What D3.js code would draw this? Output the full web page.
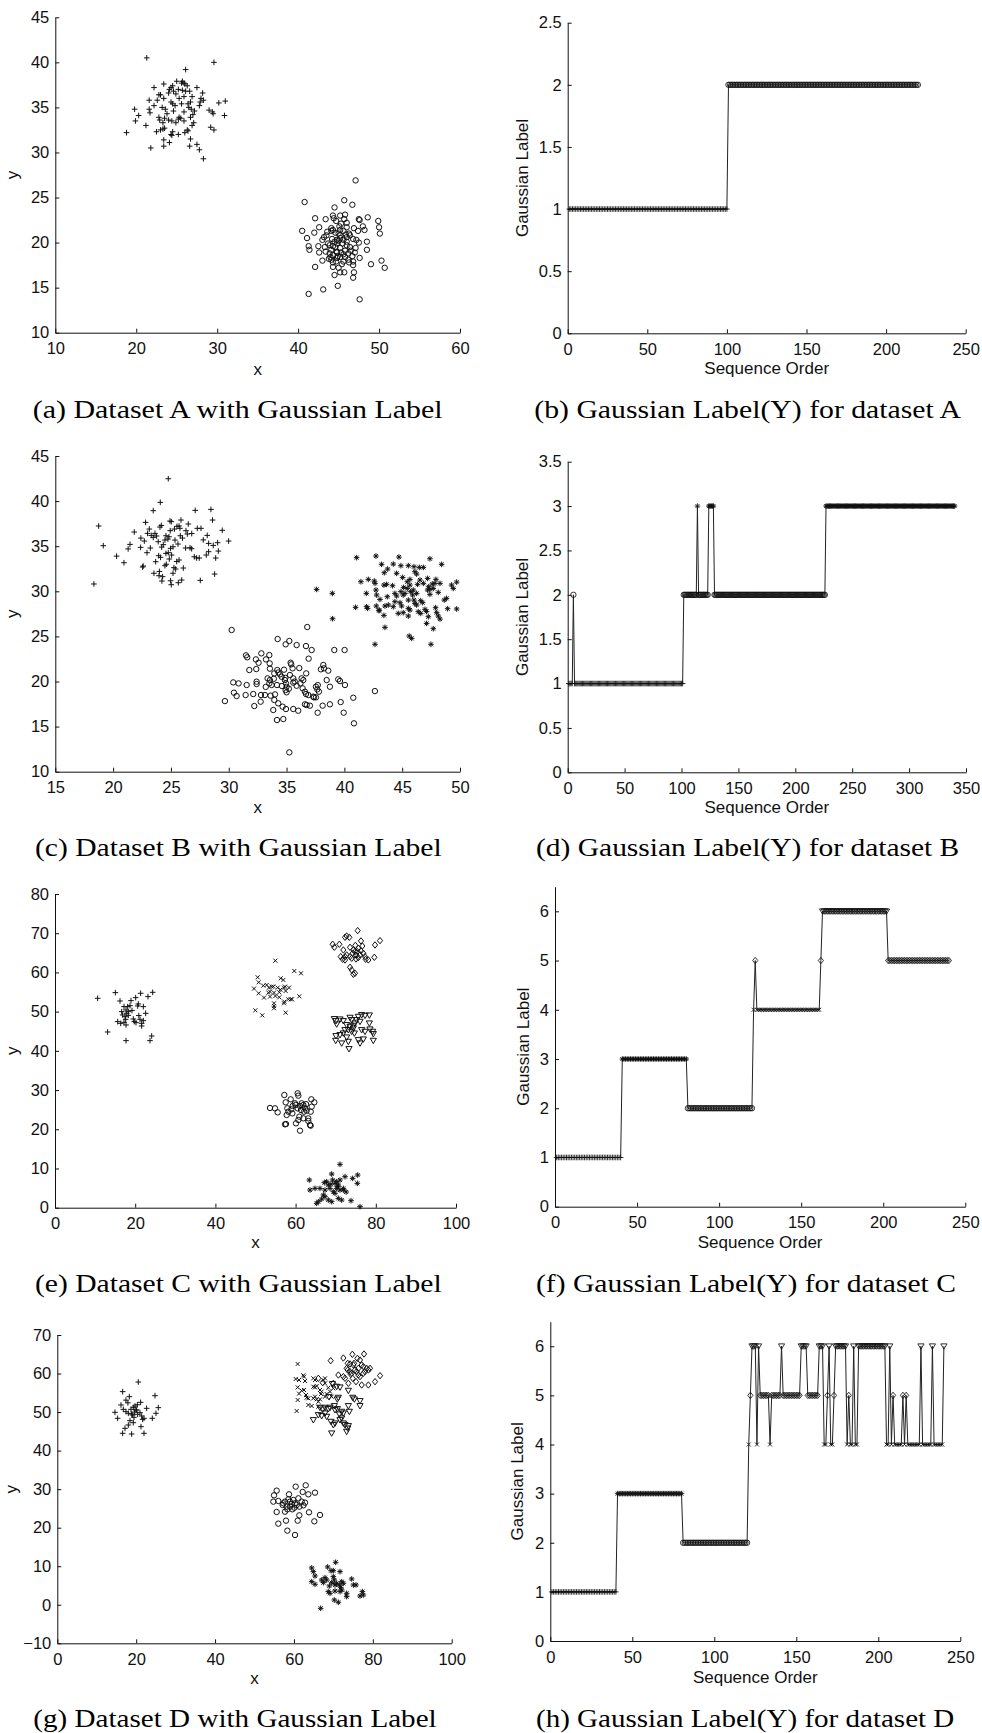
<!DOCTYPE html>
<html><head><meta charset="utf-8">
<script src="https://cdn.jsdelivr.net/npm/d3@7"></script>
<style>body{margin:0;background:#fff}</style>
</head><body><svg id="c" width="982" height="1733"></svg>
<script>
// ---------------- DATA ----------------
// Dataset A (scatter)
const aPlus=[[21.3,40.5],[29.6,40.0],[26.1,39.2],[25.0,37.9],[25.7,37.9],[25.9,37.7],[26.0,37.6],[25.6,37.7],[23.4,37.6],[24.5,37.4],[26.3,37.4],[22.2,37.2],[24.3,37.2],[27.5,37.2],[25.2,37.0],[24.1,37.0],[24.6,36.8],[26.1,36.8],[26.6,36.8],[24.0,36.6],[28.2,36.6],[22.8,36.4],[23.0,36.4],[26.9,36.2],[25.9,36.2],[23.4,36.0],[25.3,36.0],[28.0,36.0],[21.6,35.8],[22.6,35.8],[28.3,35.8],[24.3,35.6],[26.7,35.6],[27.9,35.6],[30.2,35.5],[31.0,35.7],[24.5,35.4],[25.6,35.4],[26.4,35.4],[22.2,35.2],[24.8,35.2],[27.8,35.2],[23.2,35.0],[26.5,35.0],[19.8,34.8],[21.6,34.8],[23.6,34.8],[26.8,34.8],[29.0,34.7],[24.6,34.6],[27.2,34.6],[25.9,34.5],[29.4,34.5],[21.7,34.4],[29.5,34.3],[20.3,34.1],[30.9,34.1],[22.8,33.9],[25.3,33.9],[26.7,33.9],[23.5,33.8],[25.5,33.8],[25.2,33.7],[22.9,33.6],[24.0,33.6],[19.9,33.5],[24.4,33.5],[25.9,33.5],[23.3,33.3],[24.9,33.3],[27.1,33.3],[21.2,33.0],[26.9,33.0],[29.2,32.8],[23.5,32.7],[23.3,32.6],[23.0,32.5],[26.3,32.5],[29.6,32.5],[26.4,32.4],[22.5,32.3],[24.5,32.3],[18.8,32.2],[26.0,32.2],[25.2,32.0],[24.3,32.0],[24.4,31.9],[26.7,31.5],[23.4,31.4],[24.1,31.1],[27.5,30.9],[23.4,30.7],[26.6,30.7],[21.8,30.5],[27.8,30.3],[28.3,29.3],[24.9,36.5],[27.0,34.2],[23.8,34.3],[25.7,36.9]];
const aCircle=[[47.1,26.9],[40.8,24.5],[45.7,24.7],[46.7,24.2],[44.5,23.9],[48.6,22.8],[49.9,22.4],[42.1,22.7],[43.4,22.6],[44.3,23.0],[45.2,23.0],[45.8,23.1],[47.5,22.6],[47.6,22.5],[44.7,22.4],[45.3,22.1],[50.0,21.7],[50.1,21.0],[40.5,21.3],[42.6,21.7],[42.0,21.1],[44.1,21.6],[44.3,21.4],[46.0,21.7],[46.9,21.6],[48.0,21.8],[48.2,21.4],[47.4,21.3],[45.2,21.4],[45.0,21.0],[41.1,20.5],[43.2,20.6],[43.0,20.3],[43.5,20.8],[44.8,20.3],[45.2,20.5],[45.6,20.3],[46.0,20.6],[46.4,20.8],[47.2,20.3],[48.5,20.1],[41.3,19.6],[41.4,19.2],[42.5,19.6],[43.3,19.5],[43.9,19.7],[44.1,19.2],[44.6,19.5],[44.8,19.9],[45.2,19.4],[46.0,19.7],[46.4,19.5],[48.5,19.2],[42.6,18.9],[43.9,18.8],[44.3,18.6],[44.8,18.9],[45.2,18.4],[45.6,18.7],[46.2,18.8],[46.7,18.5],[47.6,18.3],[43.0,18.0],[44.1,18.1],[44.3,17.8],[44.8,18.3],[45.6,17.9],[46.2,18.1],[46.8,17.5],[46.8,17.9],[50.3,18.0],[50.7,17.2],[49.0,17.6],[42.1,17.3],[44.3,17.3],[44.5,16.4],[45.2,16.7],[45.7,16.7],[46.9,16.7],[46.8,16.1],[44.9,15.2],[43.1,14.8],[41.3,14.3],[47.6,13.7],[44.5,20.1],[45.0,20.2],[45.5,19.9],[46.0,20.1],[44.8,19.0],[45.3,18.9],[45.8,19.1],[44.2,20.4],[45.1,21.8],[44.6,21.1],[45.9,20.9],[46.5,19.1],[44.0,18.4],[45.4,17.6],[44.7,17.9],[46.3,17.8],[43.7,19.9],[46.8,20.4],[45.7,22.6],[44.4,22.7],[47.1,19.4],[43.6,21.2],[45.2,20.8],[44.9,18.5],[45.6,21.3],[46.3,21.0],[44.3,19.6],[47.0,18.9],[43.8,18.2],[46.0,22.2],[45.0,17.2],[43.4,19.0],[47.5,20.0],[44.1,21.3],[45.8,18.4]];
// Dataset B (scatter)
const bPlus=[[24.77,42.48],[24.08,39.86],[23.47,38.94],[27.1,38.97],[28.46,39.08],[28.6,37.9],[29.44,36.76],[18.75,37.24],[19.15,35.06],[29.99,35.57],[18.34,30.81],[20.3,33.9],[20.94,33.17],[21.83,36.57],[22.81,37.64],[21.3,34.7],[21.46,35.2],[22.38,34.87],[22.55,32.69],[22.6,32.8],[22.98,36.42],[23.13,36.9],[22.93,34.28],[23.22,34.8],[23.47,35.98],[23.62,36.42],[23.76,36.13],[23.68,33.28],[23.97,31.73],[24.28,31.62],[24.22,31.14],[23.94,33.95],[24.1,33.76],[24.34,35.17],[24.48,32.84],[24.57,34.2],[24.77,34.28],[24.05,37.12],[24.17,37.3],[24.92,37.79],[25.03,37.72],[24.94,36.72],[24.83,36.05],[24.74,35.79],[24.97,34.76],[25.06,34.02],[24.86,33.58],[24.97,31.17],[25.03,30.73],[25.18,32.0],[25.26,32.62],[25.41,32.47],[25.18,34.94],[25.35,35.68],[25.61,35.24],[25.52,37.2],[25.7,37.24],[25.78,36.98],[25.87,37.9],[25.64,30.95],[25.93,31.25],[25.7,33.47],[26.07,32.58],[25.81,36.16],[26.3,36.72],[26.42,36.35],[26.27,34.8],[26.5,37.46],[26.65,34.83],[26.79,34.72],[27.02,33.83],[27.22,33.69],[27.45,33.69],[27.28,36.98],[27.6,36.98],[27.54,31.21],[28.06,34.02],[28.26,34.39],[28.14,36.2],[28.26,35.31],[28.66,35.09],[28.87,33.69],[28.78,31.91],[29.04,35.39],[29.1,34.46],[22.7,35.57],[23.53,32.0],[24.57,36.16],[24.48,35.68],[24.2,34.9],[25.5,33.3],[23.9,35.5],[26.0,35.9],[22.4,35.9],[25.3,36.9],[24.6,33.0],[26.8,36.4],[23.3,36.2],[27.8,35.7],[24.0,32.2]];
const bCircle=[[30.25,25.71],[36.79,26.04],[34.23,24.71],[34.92,24.12],[35.24,24.49],[35.87,24.04],[36.68,23.93],[37.17,23.49],[39.13,23.49],[40.02,23.49],[36.91,22.53],[32.82,23.12],[33.51,22.93],[31.49,22.9],[31.6,22.68],[32.35,22.45],[32.58,22.08],[33.22,22.45],[33.54,22.01],[35.35,22.08],[35.52,21.46],[36.1,21.49],[38.18,21.83],[38.24,21.46],[37.97,21.35],[38.61,21.2],[31.78,21.27],[32.38,21.38],[33.56,21.42],[34.2,21.27],[34.78,21.31],[33.94,20.9],[34.43,20.79],[34.57,20.53],[35.29,20.72],[35.58,20.35],[30.39,19.9],[30.85,19.79],[31.55,19.61],[32.41,19.98],[32.41,19.72],[33.36,20.35],[33.56,20.16],[33.51,19.79],[33.71,19.61],[34.17,19.61],[34.86,20.16],[34.95,19.79],[35.0,19.42],[34.92,19.05],[35.58,19.87],[35.87,19.53],[36.45,20.16],[36.3,20.35],[36.39,19.24],[36.59,18.87],[36.68,18.61],[36.88,18.5],[37.54,19.42],[37.66,19.13],[37.8,18.87],[38.47,20.16],[38.75,19.42],[39.47,20.24],[39.62,20.05],[40.05,19.61],[42.64,18.94],[40.77,18.2],[30.45,18.76],[30.68,18.39],[31.46,18.5],[32.12,18.61],[32.79,18.5],[33.13,18.5],[33.62,18.43],[34.0,18.57],[33.94,17.95],[34.28,17.58],[34.66,17.21],[34.95,16.95],[37.31,18.32],[37.54,18.24],[37.37,18.24],[36.59,17.47],[36.74,17.39],[37.02,17.32],[38.12,17.32],[38.75,17.47],[39.68,17.72],[29.67,17.83],[32.21,17.28],[32.76,17.76],[33.85,16.84],[35.58,16.95],[36.01,16.76],[37.69,16.54],[39.94,16.54],[34.17,15.73],[34.72,15.84],[40.83,15.36],[35.24,12.14],[34.9,20.4],[35.2,19.2],[34.6,19.5],[35.7,20.0],[36.2,19.8],[33.9,20.3],[34.3,21.0],[35.4,21.9],[36.7,20.9],[37.7,19.6],[35.0,18.8],[33.2,19.4]];
const bStar=[[37.6,30.21],[38.96,29.77],[38.98,26.96],[41.06,33.73],[42.73,33.91],[44.72,33.8],[47.4,33.61],[48.41,32.99],[43.22,32.99],[44.23,33.02],[44.89,32.84],[45.53,32.84],[46.02,32.73],[46.48,32.65],[46.83,32.65],[43.74,32.47],[43.45,32.06],[44.52,31.99],[45.04,31.54],[46.1,32.17],[46.25,31.91],[47.2,31.43],[47.92,31.32],[47.83,30.88],[41.43,31.06],[42.07,31.32],[42.59,31.14],[42.65,30.88],[43.42,30.69],[43.65,30.77],[44.17,30.62],[45.44,31.06],[45.67,31.32],[46.54,31.25],[46.33,30.77],[46.83,30.88],[47.29,30.51],[47.4,30.21],[47.6,30.81],[47.69,30.32],[48.27,30.88],[49.27,30.69],[49.42,30.32],[49.71,31.02],[41.9,29.77],[42.73,30.14],[42.79,29.59],[43.08,29.1],[43.71,29.4],[44.37,29.77],[44.52,29.48],[44.89,29.96],[45.09,29.59],[45.24,29.77],[45.73,29.96],[45.9,29.59],[46.02,29.03],[46.6,28.96],[46.77,28.74],[47.2,30.14],[47.4,29.66],[48.12,29.88],[48.64,29.03],[48.84,29.22],[40.97,28.22],[41.92,28.29],[42.01,28.11],[42.76,28.37],[43.02,27.92],[43.51,28.37],[43.8,28.48],[44.81,28.74],[44.95,28.37],[44.66,27.55],[45.09,27.63],[45.53,28.11],[45.67,27.92],[46.1,28.66],[46.25,28.48],[46.39,27.74],[46.6,27.55],[46.97,28.0],[47.11,27.77],[47.26,27.18],[47.89,28.18],[47.98,27.63],[48.12,27.26],[48.93,28.07],[49.71,28.04],[43.42,27.33],[42.99,27.85],[45.53,27.26],[47.11,26.44],[48.27,26.92],[43.51,26.0],[47.69,25.85],[45.61,25.04],[45.82,24.78],[42.65,24.12],[47.49,24.12],[44.23,28.29],[44.37,28.85],[45.44,30.32],[45.67,30.69],[45.12,30.43],[45.96,30.14],[46.25,29.77],[45.53,29.03]];
// Dataset C (scatter)
const cPlus=[[10.64,53.4],[15.05,54.85],[13.13,44.81],[16.21,52.72],[17.71,42.6],[18.95,52.81],[20.12,53.57],[21.36,54.68],[23.19,53.83],[24.36,54.93],[24.11,43.79],[23.69,42.6],[17.21,51.28],[17.71,50.43],[18.12,51.28],[16.63,50.0],[16.87,49.15],[17.46,48.72],[18.29,50.0],[18.7,51.53],[20.62,51.45],[20.78,51.96],[22.03,51.28],[22.61,49.57],[15.63,47.45],[16.38,47.02],[17.21,47.28],[17.71,46.6],[17.62,48.04],[19.53,48.13],[19.78,47.45],[20.2,47.19],[21.2,48.04],[21.61,47.02],[22.03,47.7],[21.61,46.34],[17.87,49.57],[18.29,49.06],[19.2,50.3],[20.9,49.0]];
const cCross=[[54.95,63.0],[59.68,60.37],[61.35,59.78],[50.54,58.76],[50.79,57.48],[49.63,55.87],[49.96,50.34],[51.7,49.06],[57.52,49.74],[60.93,53.91],[51.95,56.63],[50.79,54.68],[52.12,53.57],[52.79,56.8],[53.37,56.12],[53.2,54.85],[53.62,53.83],[54.03,56.38],[54.45,56.38],[54.61,54.85],[54.95,53.99],[54.61,52.13],[54.61,51.45],[54.61,50.85],[55.53,56.12],[55.94,54.93],[56.28,58.5],[56.94,58.08],[57.11,56.12],[57.52,55.27],[57.36,56.38],[57.19,52.55],[57.11,52.13],[58.35,56.12],[58.19,53.15],[58.77,53.15],[59.1,53.15],[55.94,53.66],[53.62,55.1],[56.2,55.6]];
const cDiamond=[[75.48,70.66],[69.24,67.18],[69.66,66.41],[70.91,67.18],[72.32,68.96],[72.73,69.3],[73.4,68.96],[76.31,68.03],[76.64,66.75],[79.8,67.01],[81.05,68.11],[71.9,65.73],[72.73,64.46],[72.32,64.03],[71.24,64.03],[71.74,63.35],[73.57,66.41],[74.4,65.73],[74.81,65.31],[73.57,64.03],[73.98,63.61],[74.23,64.88],[75.06,64.46],[75.39,65.31],[76.06,64.46],[75.64,66.16],[76.89,64.88],[77.31,64.03],[75.64,63.78],[75.06,63.44],[77.47,63.35],[78.14,63.18],[79.63,63.86],[73.57,61.31],[73.98,60.63],[74.81,59.78],[74.4,59.52],[72.32,63.18],[74.9,66.9],[76.3,65.5]];
const cTri=[[69.66,48.13],[70.07,47.62],[71.07,48.04],[70.24,46.77],[71.9,47.62],[73.57,48.47],[73.98,47.87],[75.64,48.72],[76.47,49.15],[77.31,48.98],[78.39,49.06],[74.81,47.02],[74.4,46.43],[73.57,46.17],[73.15,45.32],[72.32,45.32],[71.9,44.47],[73.98,44.9],[75.22,47.87],[76.06,47.45],[78.39,47.02],[78.55,45.49],[76.47,45.32],[77.31,44.9],[79.22,44.9],[79.38,44.3],[70.07,43.79],[71.07,44.05],[72.73,43.45],[70.0,42.6],[71.49,41.92],[73.15,42.35],[73.32,40.48],[75.64,42.77],[76.06,41.92],[76.89,42.94],[79.38,42.6],[74.4,45.75],[72.73,46.6],[74.65,44.47]];
const cCircle=[[57.19,28.74],[60.52,29.17],[60.68,28.57],[63.92,27.64],[64.67,26.87],[53.62,25.43],[54.86,25.34],[55.53,24.32],[57.52,26.87],[57.94,25.34],[58.19,24.49],[58.77,27.64],[59.85,26.62],[57.77,23.64],[58.94,25.09],[59.19,24.06],[60.52,25.34],[61.1,25.94],[61.51,26.62],[61.93,26.19],[61.35,24.91],[62.34,25.34],[62.76,24.74],[64.01,25.77],[63.76,24.49],[60.93,23.21],[61.93,22.79],[63.17,22.79],[63.17,22.11],[63.59,21.09],[63.76,20.92],[60.1,21.51],[60.68,22.36],[57.36,21.26],[57.6,21.34],[61.1,19.64],[59.27,25.94],[62.1,24.49],[60.0,26.2],[62.6,26.4]];
const cStar=[[71.07,11.05],[69.0,8.59],[63.42,7.06],[75.48,8.33],[72.32,7.91],[74.23,7.48],[75.39,6.21],[63.59,4.51],[64.84,4.93],[66.08,4.93],[67.16,6.38],[67.75,6.63],[68.16,5.78],[67.33,4.51],[68.58,4.93],[69.24,7.06],[69.83,6.21],[70.24,6.63],[70.66,5.78],[71.07,7.06],[70.24,4.93],[71.07,4.51],[71.9,4.93],[71.9,4.51],[69.41,4.08],[66.92,3.23],[67.33,2.81],[65.67,1.53],[65.25,1.11],[68.16,1.96],[69.0,1.53],[70.66,2.38],[71.49,1.96],[73.82,1.79],[76.06,0.26],[69.83,3.66],[70.5,5.4],[68.8,6.0],[72.6,4.0],[66.5,2.2]];
// Dataset D (scatter)
const dPlus=[[20.54,57.8],[16.57,55.3],[17.41,53.1],[18.26,54.0],[24.77,54.26],[21.13,52.53],[25.61,51.15],[16.15,51.84],[16.74,50.71],[14.62,49.94],[15.3,48.38],[22.65,50.97],[25.02,49.68],[24.09,48.38],[17.41,50.11],[18.01,49.68],[18.68,50.71],[19.27,51.23],[19.7,51.58],[20.12,50.54],[19.1,49.24],[19.44,48.64],[20.37,49.42],[20.96,49.85],[21.39,48.98],[21.64,48.12],[21.98,48.38],[18.43,47.77],[19.27,47.25],[18.01,46.65],[17.16,45.78],[21.22,46.22],[16.57,44.49],[18.85,44.31],[21.98,44.49],[19.95,50.54],[18.85,49.5],[20.3,51.9],[19.6,50.0],[17.9,52.4]];
const dCross=[[60.95,62.48],[60.44,58.58],[61.29,58.32],[62.38,59.54],[62.55,59.19],[62.81,58.07],[60.95,56.42],[61.29,54.78],[60.95,53.14],[60.69,50.28],[62.55,55.73],[63.23,53.74],[63.65,53.57],[63.65,51.84],[64.92,58.76],[65.34,58.32],[64.92,56.59],[65.34,56.42],[65.77,56.77],[64.92,53.57],[65.77,53.31],[65.34,54.0],[66.61,55.73],[67.03,55.3],[66.61,53.31],[66.19,52.7],[67.46,58.32],[67.88,58.76],[67.88,57.46],[67.88,54.0],[68.3,54.69],[69.15,55.3],[69.57,54.0],[69.99,56.16],[66.19,51.41],[64.5,51.58],[61.96,55.56],[63.06,54.43],[66.86,54.7],[68.72,56.33]];
const dDiamond=[[69.32,63.34],[72.53,64.03],[74.81,64.99],[77.77,65.07],[76.08,63.94],[76.75,63.51],[73.63,62.65],[74.22,62.48],[75.07,62.22],[77.18,62.22],[77.6,61.78],[73.37,61.35],[73.63,60.92],[74.22,60.49],[74.64,60.06],[75.49,60.92],[75.91,60.49],[76.33,59.62],[76.75,59.19],[78.01,60.49],[78.44,61.35],[78.87,60.92],[79.29,61.35],[71.26,59.62],[72.53,59.19],[72.95,58.76],[77.18,57.03],[78.87,57.03],[80.56,57.89],[81.83,59.45],[69.99,57.46],[66.19,58.76],[74.9,58.76],[76.33,61.35],[75.24,62.65],[74.39,59.8],[77.6,60.06],[75.74,57.89],[73.8,57.46],[67.29,57.63]];
const dTri=[[69.74,57.29],[70.84,56.59],[71.68,56.42],[71.26,53.74],[71.0,53.31],[73.8,55.56],[74.9,53.74],[75.32,53.31],[76.75,52.88],[76.75,51.58],[73.8,51.58],[66.61,51.15],[67.29,50.71],[67.88,51.15],[68.72,50.8],[69.15,51.15],[70.41,50.54],[71.0,50.8],[72.11,50.11],[72.53,49.68],[74.05,50.11],[64.92,47.94],[66.19,49.24],[67.03,48.98],[67.88,49.68],[68.3,48.81],[69.4,47.51],[69.99,46.65],[70.41,47.08],[71.68,47.94],[72.11,48.38],[72.95,46.65],[73.63,45.78],[72.53,47.08],[73.8,46.39],[69.57,44.49],[73.37,44.92],[70.24,51.58],[71.51,49.42],[68.9,53.9]];
const dCircle=[[55.62,29.61],[60.44,30.65],[62.98,31.0],[62.22,29.27],[65.34,29.09],[63.65,28.66],[54.95,28.4],[58.75,28.66],[56.04,26.93],[54.78,26.76],[57.31,26.32],[57.73,26.76],[58.58,27.36],[59.0,26.76],[58.16,25.46],[59.0,25.46],[59.85,27.19],[60.27,26.32],[60.69,25.89],[61.37,25.46],[61.96,26.76],[62.81,26.5],[59.59,24.77],[57.73,24.16],[55.62,24.08],[61.37,23.21],[63.82,23.99],[66.61,23.3],[57.99,21.83],[60.95,21.83],[65.17,21.65],[56.04,21.05],[58.33,19.23],[60.27,18.11],[59.43,26.15],[58.33,24.77],[57.14,25.89],[61.12,27.62],[60.1,25.2],[62.4,25.8]];
const dStar=[[70.58,11.02],[64.5,9.55],[68.55,9.81],[69.4,8.85],[69.99,8.85],[64.92,8.6],[65.34,7.47],[71.68,8.6],[74.64,6.69],[67.88,7.04],[68.3,6.43],[67.03,6.43],[67.46,5.74],[69.99,7.3],[70.24,6.43],[64.5,6.0],[65.34,5.31],[68.98,4.88],[70.41,5.14],[70.84,5.57],[72.11,6.0],[72.53,5.57],[71.85,4.53],[72.11,3.84],[75.07,5.14],[75.74,5.14],[68.72,3.41],[69.15,2.97],[70.41,3.58],[71.68,3.41],[73.37,2.97],[73.37,2.11],[77.35,3.41],[77.6,2.54],[76.75,2.28],[70.24,1.24],[71.26,0.64],[66.78,-0.92],[71.51,5.14],[69.57,5.74]];

// Gaussian label sequences, as runs [label, count] in sequence order (index starts at 1)
const seqA=[[1,100],[2,120]];
const seqB=[[1,4],[2,1],[1,96],[2,12],[3,1],[2,9],[3,5],[2,98],[3,114]];
const seqC=[[1,40],[3,40],[2,40],[4,1],[5,1],[4,39],[5,1],[6,40],[5,38]];
const seqD=[[1,40],[3,40],[2,40],[4,1],[5,1],[6,3],[4,1],[6,1],[5,6],[4,1],[5,6],[6,1],[5,11],[6,4],[5,7],[6,3],[4,2],[5,1],[6,1],[4,2],[5,1],[6,7],[4,1],[5,1],[4,2],[6,1],[4,2],[6,17],[4,2],[6,1],[4,1],[5,1],[4,5],[5,1],[4,1],[5,1],[4,8],[6,1],[4,6],[6,1],[4,6],[6,1]];

// tick values
const ticksAx=[10,20,30,40,50,60], ticksAy=[10,15,20,25,30,35,40,45];
const ticksBx=[15,20,25,30,35,40,45,50], ticksBy=[10,15,20,25,30,35,40,45];
const ticksCx=[0,20,40,60,80,100], ticksCy=[0,10,20,30,40,50,60,70,80];
const ticksDx=[0,20,40,60,80,100], ticksDy=[-10,0,10,20,30,40,50,60,70];
const seqTicksA=[0,50,100,150,200,250], seqTicksAy=[0,0.5,1,1.5,2,2.5];
const seqTicksB=[0,50,100,150,200,250,300,350], seqTicksBy=[0,0.5,1,1.5,2,2.5,3,3.5];
const seqTicksC=[0,50,100,150,200,250], seqTicksCy=[0,1,2,3,4,5,6];
const seqTicksD=[0,50,100,150,200,250], seqTicksDy=[0,1,2,3,4,5,6];

const captions=["(a) Dataset A with Gaussian Label","(b) Gaussian Label(Y) for dataset A",
"(c) Dataset B with Gaussian Label","(d) Gaussian Label(Y) for dataset B",
"(e) Dataset C with Gaussian Label","(f) Gaussian Label(Y) for dataset C",
"(g) Dataset D with Gaussian Label","(h) Gaussian Label(Y) for dataset D"];

// label -> marker
const labelMarker={1:'+',2:'o',3:'*',4:'x',5:'d',6:'v'};

// ---------------- LAYOUT ----------------
const svg=d3.select('#c');
svg.append('rect').attr('width',982).attr('height',1733).attr('fill','#fff');
const INK='#111';
const SANS='"Liberation Sans", Arial, sans-serif';

function sym(t){
  const s=2.8;
  switch(t){
    case '+': return `M${-s},0H${s}M0,${-s}V${s}`;
    case 'x': {const k=2.0; return `M${-k},${-k}L${k},${k}M${-k},${k}L${k},${-k}`;}
    case '*': {const k=2.0; return `M${-s},0H${s}M0,${-s}V${s}M${-k},${-k}L${k},${k}M${-k},${k}L${k},${-k}`;}
    case 'o': {const r=2.7; return `M${r},0A${r},${r} 0 1,1 ${-r},0A${r},${r} 0 1,1 ${r},0Z`;}
    case 'd': return `M0,-3.2L2.6,0L0,3.2L-2.6,0Z`;
    case 'v': return `M-3.1,-2.4H3.1L0,3.0Z`;
  }
}

function axes(g,x,y,xt,yt,yfmt){
  const ax=g.append('g').attr('transform',`translate(0,${y.range()[0]})`)
    .call(d3.axisBottom(x).tickValues(xt).tickSizeInner(-4).tickSizeOuter(0).tickPadding(10).tickFormat(d=>String(d).replace('-','\u2212')));
  const ay=g.append('g').attr('transform',`translate(${x.range()[0]},0)`)
    .call(d3.axisLeft(y).tickValues(yt).tickSizeInner(-4).tickSizeOuter(0).tickPadding(6).tickFormat(yfmt||(d=>String(d).replace('-','\u2212'))));
  [ax,ay].forEach(a=>{
    a.attr('font-family',SANS).attr('font-size',16.5);
    a.selectAll('path,line').attr('stroke',INK).attr('stroke-width',1);
    a.selectAll('text').attr('fill',INK);
  });
}

function labels(g,box,xl,yl,yLabX,xLabY){
  g.append('text').attr('x',(box[0]+box[1])/2).attr('y',xLabY).attr('text-anchor','middle')
    .attr('font-family',SANS).attr('font-size',17).attr('fill',INK).text(xl);
  g.append('text').attr('transform',`translate(${yLabX},${(box[2]+box[3])/2}) rotate(-90)`).attr('text-anchor','middle')
    .attr('font-family',SANS).attr('font-size',17).attr('fill',INK).text(yl);
}

const scatterPanels=[
 {box:[55.3,460,17.3,332.7],xd:[10,60],yd:[10,45],xt:ticksAx,yt:ticksAy,groups:[[aPlus,'+'],[aCircle,'o']],yLabX:18,xLabY:375},
 {box:[55.3,460,456,771.7],xd:[15,50],yd:[10,45],xt:ticksBx,yt:ticksBy,groups:[[bPlus,'+'],[bCircle,'o'],[bStar,'*']],yLabX:18,xLabY:813},
 {box:[55,456,894,1207.7],xd:[0,100],yd:[0,80],xt:ticksCx,yt:ticksCy,groups:[[cPlus,'+'],[cCross,'x'],[cDiamond,'d'],[cTri,'v'],[cCircle,'o'],[cStar,'*']],yLabX:18,xLabY:1248},
 {box:[57.3,451.7,1335,1643.3],xd:[0,100],yd:[-10,70],xt:ticksDx,yt:ticksDy,groups:[[dPlus,'+'],[dCross,'x'],[dDiamond,'d'],[dTri,'v'],[dCircle,'o'],[dStar,'*']],yLabX:17,xLabY:1684}
];
const seqPanels=[
 {box:[567.7,965.7,22.7,333.3],xd:[0,250],yd:[0,2.5],xt:seqTicksA,yt:seqTicksAy,runs:seqA,yLabX:527.7,xLabY:374},
 {box:[567.7,966,461.7,772.3],xd:[0,350],yd:[0,3.5],xt:seqTicksB,yt:seqTicksBy,runs:seqB,yLabX:527.7,xLabY:813},
 {box:[555,965.3,886.7,1206.7],xd:[0,250],yd:[0,6.5],xt:seqTicksC,yt:seqTicksCy,runs:seqC,yLabX:528.7,xLabY:1248},
 {box:[550.3,960.3,1321.7,1641],xd:[0,250],yd:[0,6.5],xt:seqTicksD,yt:seqTicksDy,runs:seqD,yLabX:523.3,xLabY:1683}
];
const capPos=[[32.7,410,418],[534.3,426.7,418],[35,406.7,856],[536,423.3,856],[35,406.7,1292],[536,420,1292],[33.3,403.4,1727],[536,418.3,1727]];

scatterPanels.forEach(p=>{
  const g=svg.append('g');
  const x=d3.scaleLinear().domain(p.xd).range([p.box[0],p.box[1]]);
  const y=d3.scaleLinear().domain(p.yd).range([p.box[3],p.box[2]]);
  axes(g,x,y,p.xt,p.yt);
  p.groups.forEach(([pts,m])=>{
    g.append('g').selectAll('path').data(pts).join('path')
      .attr('transform',d=>`translate(${x(d[0])},${y(d[1])})`)
      .attr('d',sym(m)).attr('fill','none').attr('stroke',INK).attr('stroke-width',1);
  });
  labels(g,p.box,'x','y',p.yLabX,p.xLabY);
});

seqPanels.forEach(p=>{
  const g=svg.append('g');
  const x=d3.scaleLinear().domain(p.xd).range([p.box[0],p.box[1]]);
  const y=d3.scaleLinear().domain(p.yd).range([p.box[3],p.box[2]]);
  const seq=[];
  p.runs.forEach(([lab,n])=>{for(let k=0;k<n;k++) seq.push({i:seq.length+1,v:lab});});
  axes(g,x,y,p.xt,p.yt,d=>String(d));
  g.append('path').datum(seq).attr('d',d3.line().x(d=>x(d.i)).y(d=>y(d.v)))
    .attr('fill','none').attr('stroke','#222').attr('stroke-width',1);
  g.append('g').selectAll('path').data(seq).join('path')
    .attr('transform',d=>`translate(${x(d.i)},${y(d.v)})`)
    .attr('d',d=>sym(labelMarker[d.v])).attr('fill','none').attr('stroke',INK).attr('stroke-width',0.85);
  labels(g,p.box,'Sequence Order','Gaussian Label',p.yLabX,p.xLabY);
});

captions.forEach((c,i)=>{
  const [cx,w,by]=capPos[i];
  svg.append('text').attr('x',cx).attr('y',by)
    .attr('font-family','"Liberation Serif", "Times New Roman", serif').attr('font-size',25)
    .attr('fill','#000').attr('textLength',w).attr('lengthAdjust','spacingAndGlyphs').text(c);
});
</script></body></html>
